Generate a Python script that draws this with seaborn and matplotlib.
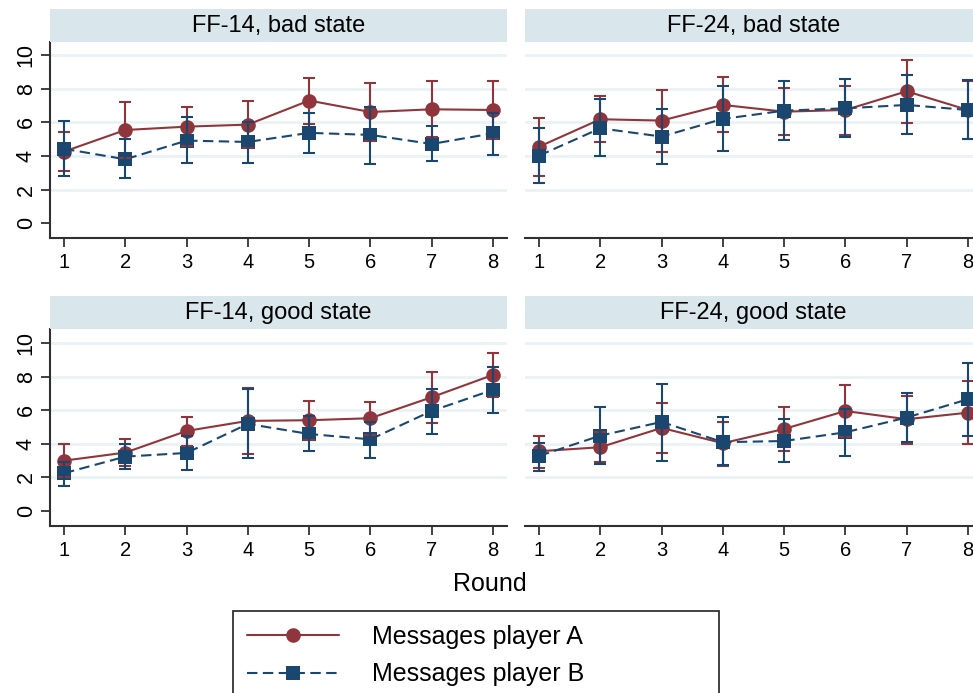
import numpy as np
import pandas as pd
import matplotlib
matplotlib.use("Agg")
import matplotlib.pyplot as plt
import seaborn as sns
from matplotlib.lines import Line2D

# ---------------- data ----------------
rounds = [1, 2, 3, 4, 5, 6, 7, 8]
panel_titles = ["FF-14, bad state", "FF-24, bad state", "FF-14, good state", "FF-24, good state"]
series_labels = ["Messages player A", "Messages player B"]

ff14_bad_a = [4.26, 5.54, 5.74, 5.86, 7.29, 6.61, 6.77, 6.73]
ff14_bad_a_lo = [3.13, 3.90, 4.59, 4.45, 5.90, 4.90, 5.15, 5.00]
ff14_bad_a_hi = [5.45, 7.19, 6.89, 7.27, 8.65, 8.36, 8.46, 8.46]
ff14_bad_b = [4.42, 3.80, 4.91, 4.83, 5.37, 5.25, 4.71, 5.34]
ff14_bad_b_lo = [2.81, 2.67, 3.56, 3.58, 4.20, 3.54, 3.68, 4.06]
ff14_bad_b_hi = [6.08, 4.99, 6.30, 6.04, 6.57, 6.89, 5.78, 6.55]

ff24_bad_a = [4.55, 6.18, 6.10, 7.03, 6.63, 6.73, 7.84, 6.73]
ff24_bad_a_lo = [2.81, 4.81, 4.26, 5.41, 5.23, 5.23, 5.98, 5.00]
ff24_bad_a_hi = [6.28, 7.56, 7.92, 8.67, 8.06, 8.16, 9.70, 8.45]
ff24_bad_b = [4.02, 5.64, 5.15, 6.20, 6.69, 6.83, 7.03, 6.73]
ff24_bad_b_lo = [2.42, 4.00, 3.50, 4.30, 4.93, 5.11, 5.29, 4.99]
ff24_bad_b_hi = [5.68, 7.37, 6.81, 8.18, 8.48, 8.59, 8.81, 8.51]

ff14_good_a = [3.00, 3.48, 4.77, 5.37, 5.41, 5.53, 6.78, 8.11]
ff14_good_a_lo = [2.02, 2.70, 3.90, 3.38, 4.23, 4.55, 5.27, 6.80]
ff14_good_a_hi = [3.98, 4.29, 5.63, 7.36, 6.56, 6.48, 8.27, 9.44]
ff14_good_b = [2.25, 3.24, 3.46, 5.19, 4.59, 4.27, 5.96, 7.22]
ff14_good_b_lo = [1.49, 2.50, 2.43, 3.18, 3.58, 3.18, 4.61, 5.82]
ff14_good_b_hi = [2.94, 4.00, 4.49, 7.28, 5.69, 5.30, 7.28, 8.60]

ff24_good_a = [3.56, 3.80, 4.95, 4.04, 4.89, 5.96, 5.47, 5.86]
ff24_good_a_lo = [2.54, 2.90, 3.48, 2.70, 3.58, 4.40, 4.02, 3.98]
ff24_good_a_hi = [4.47, 4.70, 6.42, 5.31, 6.20, 7.50, 6.88, 7.77]
ff24_good_b = [3.28, 4.49, 5.31, 4.10, 4.17, 4.69, 5.57, 6.66]
ff24_good_b_lo = [2.39, 2.82, 3.00, 2.74, 2.90, 3.30, 4.10, 4.49]
ff24_good_b_hi = [4.08, 6.18, 7.59, 5.59, 5.51, 6.10, 7.02, 8.85]

y_ticks = [0, 2, 4, 6, 8, 10]
grid_values = [2, 4, 6, 8, 10]

panel_data = [
    (ff14_bad_a, ff14_bad_a_lo, ff14_bad_a_hi, ff14_bad_b, ff14_bad_b_lo, ff14_bad_b_hi),
    (ff24_bad_a, ff24_bad_a_lo, ff24_bad_a_hi, ff24_bad_b, ff24_bad_b_lo, ff24_bad_b_hi),
    (ff14_good_a, ff14_good_a_lo, ff14_good_a_hi, ff14_good_b, ff14_good_b_lo, ff14_good_b_hi),
    (ff24_good_a, ff24_good_a_lo, ff24_good_a_hi, ff24_good_b, ff24_good_b_lo, ff24_good_b_hi),
]

rows = []
for title, (a, alo, ahi, b, blo, bhi) in zip(panel_titles, panel_data):
    for r, m, lo, hi in zip(rounds, a, alo, ahi):
        rows.append(dict(panel=title, round=r, series=series_labels[0], mean=m, lo=lo, hi=hi))
    for r, m, lo, hi in zip(rounds, b, blo, bhi):
        rows.append(dict(panel=title, round=r, series=series_labels[1], mean=m, lo=lo, hi=hi))
df = pd.DataFrame(rows)

# ---------------- style ----------------
sns.set_style("white")
plt.rcParams["font.family"] = ["Liberation Sans", "DejaVu Sans"]
plt.rcParams["text.color"] = "black"
plt.rcParams["xtick.color"] = "black"
plt.rcParams["ytick.color"] = "black"

MAROON = "#90353b"
NAVY = "#1a476f"
STRIP = "#d9e6eb"
GRID = "#eaf2f3"
AXCOL = "#303030"
palette = {series_labels[0]: MAROON, series_labels[1]: NAVY}
markers = {series_labels[0]: "o", series_labels[1]: "s"}
dashes = {series_labels[0]: "", series_labels[1]: (5, 2.6)}

W, H = 973, 693
fig = plt.figure(figsize=(W / 100, H / 100), dpi=100)


def fr(x0, y0, x1, y1):
    return [x0 / W, 1 - y1 / H, (x1 - x0) / W, (y1 - y0) / H]


col_x = [(50, 507), (525, 982)]
row_y = [(42, 237.7), (329, 525.7)]
strip_y = [(9, 42), (296, 329)]
ylims = [(-0.86, 10.77), (-0.88, 10.85)]

for i, title in enumerate(panel_titles):
    r, c = divmod(i, 2)
    x0, x1 = col_x[c]
    y0, y1 = row_y[r]
    ax = fig.add_axes(fr(x0, y0, x1, y1))
    sax = fig.add_axes(fr(x0, strip_y[r][0], x1, strip_y[r][1]))
    sax.set_facecolor(STRIP)
    sax.set_xticks([]); sax.set_yticks([])
    for s in sax.spines.values():
        s.set_visible(False)
    sax.text(0.5, 0.48, title, ha="center", va="center", fontsize=17, color="black",
             transform=sax.transAxes)

    sub = df[df["panel"] == title]
    for g in grid_values:
        ax.axhline(g, color=GRID, lw=2, zorder=0)
    sns.lineplot(data=sub, x="round", y="mean", hue="series", style="series",
                 palette=palette, markers=markers, dashes=dashes, errorbar=None,
                 legend=False, ax=ax, linewidth=1.5, markersize=10.5,
                 markeredgewidth=0, zorder=3)
    for lab in series_labels:
        s = sub[sub["series"] == lab]
        ax.errorbar(s["round"], s["mean"], yerr=[s["mean"] - s["lo"], s["hi"] - s["mean"]],
                    fmt="none", ecolor=palette[lab], elinewidth=1.5, capsize=4.5,
                    capthick=1.5, zorder=4)

    ax.set_xlim(0.77, 8.23)
    ax.set_ylim(*ylims[r])
    ax.set_xticks(rounds)
    ax.set_xticklabels([str(v) for v in rounds])
    ax.set_xlabel("")
    ax.set_ylabel("")
    for s in ["top", "right"]:
        ax.spines[s].set_visible(False)
    ax.spines["bottom"].set_color(AXCOL)
    ax.spines["bottom"].set_linewidth(1.5)
    ax.tick_params(axis="x", bottom=True, length=6.5, width=1.3, color=AXCOL,
                   labelsize=14.5, pad=4.5, labelcolor="black")
    if c == 0:
        ax.set_yticks(y_ticks)
        ax.set_yticklabels([str(v) for v in y_ticks], rotation=90, va="center")
        ax.spines["left"].set_color(AXCOL)
        ax.spines["left"].set_linewidth(1.5)
        ax.tick_params(axis="y", left=True, length=6.5, width=1.3, color=AXCOL,
                       labelsize=15.5, pad=3, labelcolor="black")
    else:
        ax.set_yticks([])
        ax.spines["left"].set_visible(False)

fig.text(490 / W, 1 - 584 / H, "Round", ha="center", va="center", fontsize=18, color="black")

handles = [
    Line2D([], [], color=MAROON, marker="o", markersize=10.5, markeredgewidth=0, lw=1.5),
    Line2D([], [], color=NAVY, marker="s", markersize=10.5, markeredgewidth=0, lw=1.5,
           dashes=(5, 2.6)),
]
leg = fig.legend(handles, series_labels, loc="upper left",
                 bbox_to_anchor=(233 / W, 1 - 611 / H, (719 - 233) / W, 0.0),
                 mode="expand", fontsize=18, frameon=True, fancybox=False,
                 edgecolor="black", handlelength=3.7, handletextpad=1.3,
                 borderpad=0.55, labelspacing=0.55, borderaxespad=0.0, numpoints=1)
leg.get_frame().set_linewidth(1.3)
for t in leg.get_texts():
    t.set_color("black")

fig.savefig("out.png", dpi=100)
